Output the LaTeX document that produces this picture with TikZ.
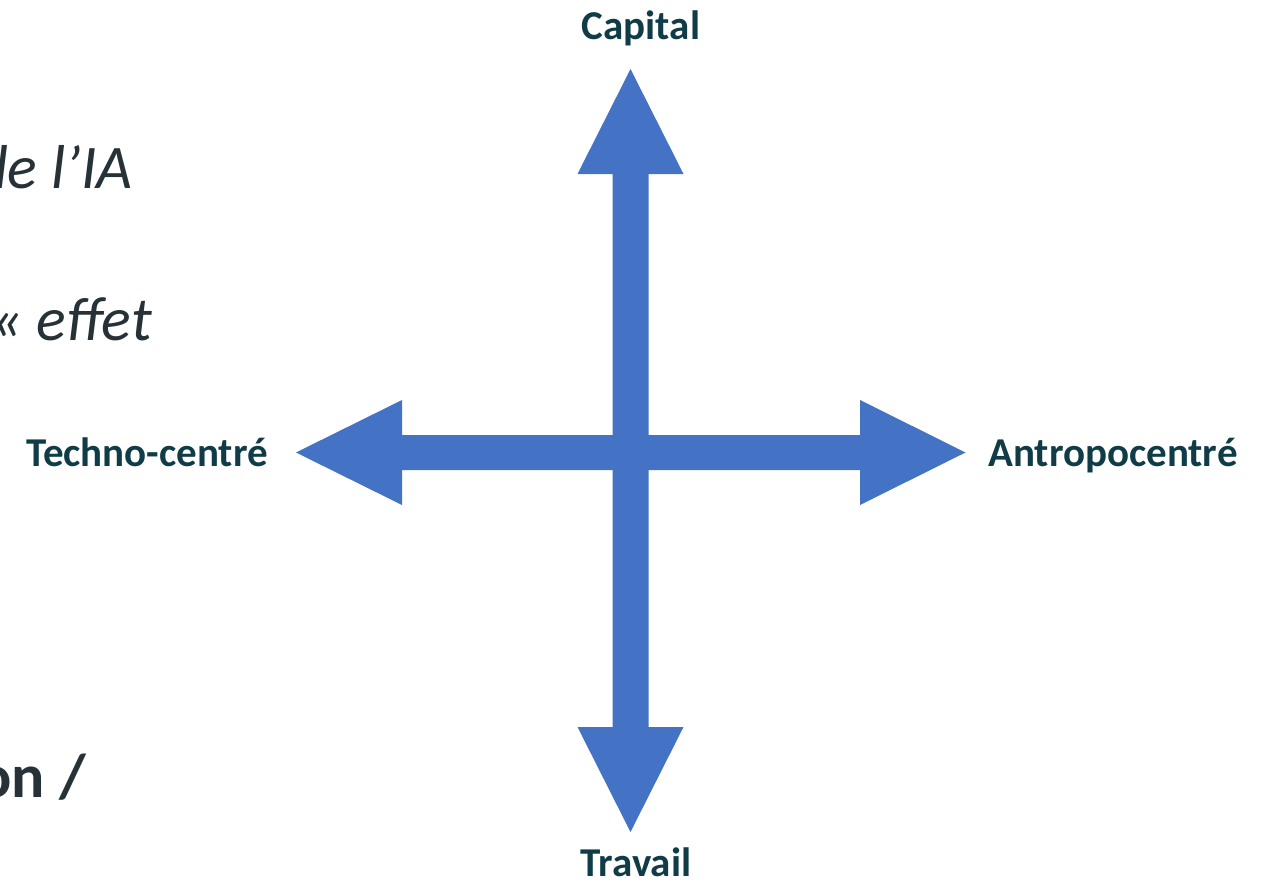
\documentclass[tikz,border=0pt]{standalone}
\usepackage{fontspec}
\setmainfont{Carlito}
\definecolor{arrowblue}{HTML}{4472C4}
\definecolor{labelteal}{HTML}{0F3C47}
\definecolor{slidetext}{HTML}{263238}
\begin{document}
\begin{tikzpicture}[x=1pt,y=-1pt,
  axislabel/.style={font=\fontsize{41}{46}\selectfont\bfseries, text=labelteal, inner sep=0pt, anchor=base},
  slidefrag/.style={text=slidetext, inner sep=0pt, anchor=base east},
  blockarrow/.style={fill=arrowblue, draw=none}]
\useasboundingbox (0,0) rectangle (1266,886);
\clip (0,0) rectangle (1266,886);
% centre and arrow ends
\coordinate (O) at (630.5,452.5);
\coordinate (N) at (630.5,69);
\coordinate (S) at (630.5,832);
\coordinate (W) at (296,452.5);
\coordinate (E) at (965.5,452.5);
% horizontal double arrow
\fill[blockarrow] (W) -- ++(106,-52.5) -- ++(0,35) -- ++(458,0) -- ++(0,-35)
  -- (E) -- ++(-105.5,52.5) -- ++(0,-35) -- ++(-458,0) -- ++(0,35) -- cycle;
% vertical double arrow
\fill[blockarrow] (N) -- ++(53,105) -- ++(-35,0) -- ++(0,553) -- ++(35,0)
  -- (S) -- ++(-53,-105) -- ++(35,0) -- ++(0,-553) -- ++(-35,0) -- cycle;
% axis labels
\node[axislabel] (cap) at (641,39) {Capital};
\node[axislabel] (trav) at (636,876) {Travail};
\node[axislabel] (tech) at (147,466) {Techno-centré};
\node[axislabel] (antr) at (1113,466) {Antropocentré};
% cut-off slide text on the left
\node[slidefrag, font=\fontsize{62}{68}\selectfont\itshape] (fragA) at (133,188) {de l’IA};
\node[slidefrag, font=\fontsize{62}{68}\selectfont\itshape] (fragB) at (152,340) {«~effet};
\node[slidefrag, font=\fontsize{62}{68}\selectfont\bfseries] (fragC) at (86,797) {on /};
\end{tikzpicture}
\end{document}
